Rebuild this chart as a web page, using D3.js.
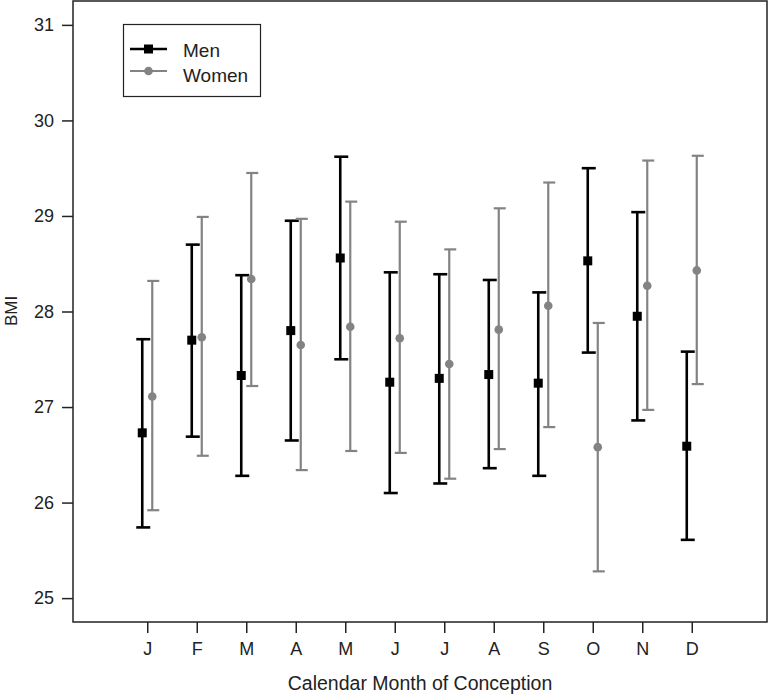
<!DOCTYPE html>
<html lang="en">
<head>
    <meta charset="UTF-8">
    <title>BMI by Calendar Month of Conception</title>
    <style>
        body { margin: 0; background: #fff; }
        svg text { font-family: "Liberation Sans", Arial, sans-serif; fill: #222; }
    </style>
</head>
<body>
    <svg id="chart" width="769" height="695"></svg>

    <script src="https://d3js.org/d3.v7.min.js"></script>
    <script>
        // data
        const months = ["J", "F", "M", "A", "M", "J", "J", "A", "S", "O", "N", "D"];
        const yTicks = [25, 26, 27, 28, 29, 30, 31];

        const menMean  = [26.73, 27.70, 27.33, 27.80, 28.56, 27.26, 27.30, 27.34, 27.25, 28.53, 27.95, 26.59];
        const menLow   = [25.74, 26.69, 26.28, 26.65, 27.50, 26.10, 26.20, 26.36, 26.28, 27.57, 26.86, 25.61];
        const menHigh  = [27.71, 28.70, 28.38, 28.95, 29.62, 28.41, 28.39, 28.33, 28.20, 29.50, 29.04, 27.58];

        const womenMean = [27.11, 27.73, 28.34, 27.65, 27.84, 27.72, 27.45, 27.81, 28.06, 26.58, 28.27, 28.43];
        const womenLow  = [25.92, 26.49, 27.22, 26.34, 26.54, 26.52, 26.25, 26.56, 26.79, 25.28, 26.97, 27.24];
        const womenHigh = [28.32, 28.99, 29.45, 28.97, 29.15, 28.94, 28.65, 29.08, 29.35, 27.88, 29.58, 29.63];

        const svg = d3.select("#chart");
        const pLeft = 73, pRight = 767, pTop = 1, pBottom = 622;

        const x = d3.scaleLinear().domain([-0.5, 13.52]).range([pLeft, pRight]);
        const y = d3.scaleLinear().domain([24.75, 31.25]).range([pBottom, pTop]);

        // frame
        svg.append("rect")
           .attr("x", pLeft).attr("y", pTop)
           .attr("width", pRight - pLeft).attr("height", pBottom - pTop)
           .attr("fill", "none").attr("stroke", "#222").attr("stroke-width", 1.5);

        // axes
        const yAxis = svg.append("g")
           .attr("transform", `translate(${pLeft},0)`)
           .call(d3.axisLeft(y).tickValues(yTicks).tickSize(11).tickPadding(8).tickFormat(d3.format("d")));
        const xAxis = svg.append("g")
           .attr("transform", `translate(0,${pBottom})`)
           .call(d3.axisBottom(x).tickValues(d3.range(1, 13)).tickSize(11).tickPadding(9)
                 .tickFormat(d => months[d - 1]));
        [yAxis, xAxis].forEach(a => {
            a.select(".domain").remove();
            a.selectAll("line").attr("stroke", "#222").attr("stroke-width", 1.5);
            a.selectAll("text").attr("font-size", 18).attr("fill", "#222")
             .style("font-family", "'Liberation Sans', Arial, sans-serif");
        });

        svg.append("text")
           .attr("transform", "translate(17,311) rotate(-90)")
           .attr("text-anchor", "middle")
           .attr("font-size", 17)
           .text("BMI");

        svg.append("text")
           .attr("x", 420).attr("y", 690)
           .attr("text-anchor", "middle")
           .attr("font-size", 19.5)
           .text("Calendar Month of Conception");

        // series
        const series = [
            { name: "Men", mean: menMean, lo: menLow, hi: menHigh, color: "#000", dx: -5, width: 2.6, cap: 14, shape: "square" },
            { name: "Women", mean: womenMean, lo: womenLow, hi: womenHigh, color: "#838383", dx: 5, width: 2.2, cap: 12, shape: "circle" }
        ];

        series.forEach(s => {
            const g = svg.append("g");
            const idx = d3.range(months.length);
            const cx = i => x(i + 1) + s.dx;

            g.selectAll(".stem").data(idx).enter().append("line")
             .attr("x1", cx).attr("x2", cx)
             .attr("y1", i => y(s.lo[i])).attr("y2", i => y(s.hi[i]))
             .attr("stroke", s.color).attr("stroke-width", s.width);

            ["lo", "hi"].forEach(k => {
                g.selectAll(".cap-" + k).data(idx).enter().append("line")
                 .attr("x1", i => cx(i) - s.cap / 2 + 1).attr("x2", i => cx(i) + s.cap / 2 + 1)
                 .attr("y1", i => y(s[k][i])).attr("y2", i => y(s[k][i]))
                 .attr("stroke", s.color).attr("stroke-width", s.width);
            });

            if (s.shape === "square") {
                g.selectAll(".pt").data(idx).enter().append("rect")
                 .attr("x", i => cx(i) - 4.5).attr("y", i => y(s.mean[i]) - 4.5)
                 .attr("width", 9).attr("height", 9)
                 .attr("fill", s.color);
            } else {
                g.selectAll(".pt").data(idx).enter().append("circle")
                 .attr("cx", cx).attr("cy", i => y(s.mean[i]))
                 .attr("r", 4.3)
                 .attr("fill", s.color);
            }
        });

        // legend
        const lg = svg.append("g");
        lg.append("rect")
          .attr("x", 123.5).attr("y", 24.5).attr("width", 137).attr("height", 72)
          .attr("fill", "#fff").attr("stroke", "#222").attr("stroke-width", 1.2);
        series.forEach((s, i) => {
            const ly = 49 + i * 22;
            lg.append("line")
              .attr("x1", 130).attr("x2", 167).attr("y1", ly).attr("y2", ly)
              .attr("stroke", s.color).attr("stroke-width", s.width);
            if (s.shape === "square") {
                lg.append("rect").attr("x", 144).attr("y", ly - 4.5).attr("width", 9).attr("height", 9).attr("fill", s.color);
            } else {
                lg.append("circle").attr("cx", 148.5).attr("cy", ly).attr("r", 4.3).attr("fill", s.color);
            }
            lg.append("text")
              .attr("x", 183).attr("y", 57 + i * 25)
              .attr("font-size", 19)
              .text(s.name);
        });
    </script>
</body>
</html>
